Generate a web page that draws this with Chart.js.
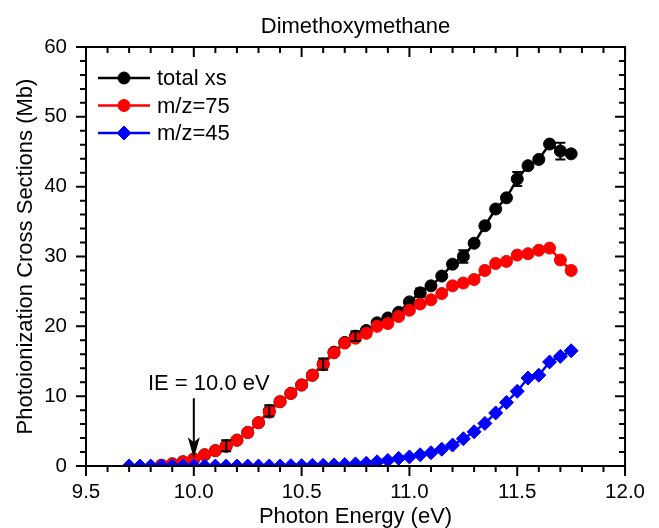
<!DOCTYPE html>
<html lang="en">
<head>
<meta charset="UTF-8">
<title>Dimethoxymethane</title>
<script src="https://cdn.jsdelivr.net/npm/chart.js"></script>
<style>
  html, body { margin: 0; padding: 0; background: #fff; }
  #wrap { width: 659px; height: 528px; }
</style>
</head>
<body>
<div id="wrap"><canvas id="xsChart"></canvas></div>
<script>
// photon energy grid (eV)
const energy = [9.70, 9.75, 9.80, 9.85, 9.90, 9.95, 10.00, 10.05, 10.10, 10.15,
                10.20, 10.25, 10.30, 10.35, 10.40, 10.45, 10.50, 10.55, 10.60, 10.65,
                10.70, 10.75, 10.80, 10.85, 10.90, 10.95, 11.00, 11.05, 11.10, 11.15,
                11.20, 11.25, 11.30, 11.35, 11.40, 11.45, 11.50, 11.55, 11.60, 11.65,
                11.70, 11.75];

// cross sections (Mb)
const totalXs = [null, null, null, 0.1, 0.3, 0.6, 1.0, 1.6, 2.2, 2.9,
                 3.7, 4.8, 6.2, 7.9, 9.2, 10.4, 11.6, 13.0, 14.6, 16.3,
                 17.7, 18.6, 19.4, 20.5, 21.2, 22.0, 23.5, 24.8, 25.8, 27.2,
                 28.9, 30.0, 31.9, 34.4, 36.8, 38.4, 41.1, 43.0, 43.9, 46.1,
                 45.1, 44.7];
const mz75 = [null, null, null, 0.1, 0.3, 0.6, 1.0, 1.6, 2.2, 2.8,
              3.7, 4.8, 6.2, 7.7, 9.2, 10.4, 11.6, 13.0, 14.5, 16.2,
              17.6, 18.3, 19.0, 20.0, 20.4, 21.4, 22.3, 23.2, 23.8, 24.7,
              25.8, 26.2, 26.7, 28.0, 29.0, 29.3, 30.2, 30.4, 30.9, 31.2,
              29.5, 28.0];
const mz45 = [0, 0, 0, 0, 0, 0, 0, 0, 0, 0,
              0, 0, 0, 0, 0, 0.05, 0.05, 0.1, 0.1, 0.15,
              0.2, 0.3, 0.4, 0.6, 0.8, 1.1, 1.3, 1.6, 1.9, 2.4,
              3.0, 3.9, 4.9, 6.1, 7.6, 9.1, 10.7, 12.6, 13.0, 14.9,
              15.7, 16.5];

// error bars on the total cross section
const errEnergy = [10.15, 10.35, 10.60, 10.75, 11.05, 11.25, 11.50, 11.70];
const errSize = [0.8, 0.8, 0.8, 0.7, 0.6, 0.9, 1.0, 1.2];

const xTickValues = [9.5, 10.0, 10.5, 11.0, 11.5, 12.0];
const yTickValues = [0, 10, 20, 30, 40, 50, 60];

const seriesNames = ['total xs', 'm/z=75', 'm/z=45'];

// ionization energy marker
const ieEnergy = 10.0;
const ieText = 'IE = 10.0 eV';

const FONT = "'Liberation Sans', Arial, sans-serif";
Chart.defaults.font.family = FONT;
Chart.defaults.color = '#000';

const pts = arr => energy.map((e, i) => ({ x: e, y: arr[i] }));

// box, inward/outward ticks and minor ticks
const frameAndTicks = {
  id: 'frameAndTicks',
  afterDatasetsDraw(chart) {
    const { ctx, chartArea: a, scales: { x, y } } = chart;
    ctx.save();
    ctx.strokeStyle = '#000';
    ctx.lineWidth = 2;
    ctx.beginPath();
    for (let i = 0; i <= 25; i++) {
      const px = x.getPixelForValue(9.5 + i * 0.1);
      const len = i % 5 === 0 ? 10 : 6;
      ctx.moveTo(px, a.bottom); ctx.lineTo(px, a.bottom + len);
      ctx.moveTo(px, a.top); ctx.lineTo(px, a.top + len);
    }
    for (let i = 0; i <= 30; i++) {
      const py = y.getPixelForValue(i * 2);
      const len = i % 5 === 0 ? 10 : 6;
      ctx.moveTo(a.left, py); ctx.lineTo(a.left - len, py);
      ctx.moveTo(a.right, py); ctx.lineTo(a.right - len, py);
    }
    ctx.stroke();
    ctx.strokeRect(a.left, a.top, a.right - a.left, a.bottom - a.top);
    ctx.restore();
  }
};

const errorBars = {
  id: 'errorBars',
  afterDatasetsDraw(chart) {
    const { ctx, scales: { x, y } } = chart;
    ctx.save();
    ctx.strokeStyle = '#000';
    ctx.lineWidth = 2;
    errEnergy.forEach((e, k) => {
      const i = energy.findIndex(v => Math.abs(v - e) < 1e-6);
      const px = x.getPixelForValue(e);
      const hi = y.getPixelForValue(totalXs[i] + errSize[k]);
      const lo = y.getPixelForValue(totalXs[i] - errSize[k]);
      ctx.beginPath();
      ctx.moveTo(px, hi); ctx.lineTo(px, lo);
      ctx.moveTo(px - 5, hi); ctx.lineTo(px + 5, hi);
      ctx.moveTo(px - 5, lo); ctx.lineTo(px + 5, lo);
      ctx.stroke();
    });
    ctx.restore();
  }
};

// title, legend box and IE arrow
const decorations = {
  id: 'decorations',
  afterDraw(chart) {
    const { ctx, chartArea: a, scales: { x, y } } = chart;
    ctx.save();
    ctx.fillStyle = '#000';
    ctx.textAlign = 'center';
    ctx.textBaseline = 'middle';
    ctx.font = '22px ' + FONT;
    ctx.fillText('Dimethoxymethane', (a.left + a.right) / 2, 27);

    // legend
    chart.data.datasets.forEach((ds, i) => {
      const ly = a.top + 31 + i * 27.5;
      ctx.strokeStyle = ds.borderColor;
      ctx.lineWidth = 2.5;
      ctx.beginPath();
      ctx.moveTo(a.left + 12, ly); ctx.lineTo(a.left + 64, ly);
      ctx.stroke();
      ctx.fillStyle = ds.pointBackgroundColor;
      ctx.strokeStyle = ds.borderColor;
      ctx.lineWidth = ds.pointBorderWidth;
      Chart.helpers.drawPoint(ctx, {
        pointStyle: ds.pointStyle, radius: ds.pointRadius,
        borderWidth: ds.pointBorderWidth, rotation: 0
      }, a.left + 38, ly);
      ctx.fillStyle = '#000';
      ctx.textAlign = 'left';
      ctx.font = '22px ' + FONT;
      ctx.fillText(ds.label, a.left + 71, ly + 1);
    });

    // IE arrow
    const ax = x.getPixelForValue(ieEnergy);
    const top = y.getPixelForValue(9.7);
    const tip = y.getPixelForValue(1.1);
    ctx.strokeStyle = '#000';
    ctx.fillStyle = '#000';
    ctx.lineWidth = 2;
    ctx.beginPath();
    ctx.moveTo(ax, top); ctx.lineTo(ax, tip - 14);
    ctx.stroke();
    ctx.beginPath();
    ctx.moveTo(ax, tip);
    ctx.lineTo(ax - 6, tip - 21);
    ctx.lineTo(ax, tip - 16);
    ctx.lineTo(ax + 6, tip - 21);
    ctx.closePath();
    ctx.fill();
    ctx.textAlign = 'center';
    ctx.font = '22px ' + FONT;
    ctx.fillText(ieText, ax + 15, y.getPixelForValue(11.8));
    ctx.restore();
  }
};

const ctx = document.getElementById('xsChart').getContext('2d');
new Chart(ctx, {
  type: 'line',
  data: {
    datasets: [
      {
        label: seriesNames[0],
        data: pts(totalXs),
        borderColor: '#000000',
        backgroundColor: '#000000',
        pointBackgroundColor: '#000000',
        pointStyle: 'circle',
        pointRadius: 6,
        pointBorderWidth: 1,
        borderWidth: 2.5,
        order: 3,
        clip: 0
      },
      {
        label: seriesNames[1],
        data: pts(mz75),
        borderColor: '#ff0000',
        backgroundColor: '#ff0000',
        pointBackgroundColor: '#ff0000',
        pointStyle: 'circle',
        pointRadius: 6,
        pointBorderWidth: 1,
        borderWidth: 2.5,
        order: 2,
        clip: 0
      },
      {
        label: seriesNames[2],
        data: pts(mz45),
        borderColor: '#0000ff',
        backgroundColor: '#0000ff',
        pointBackgroundColor: '#0000ff',
        pointStyle: 'rectRot',
        pointRadius: 7,
        pointBorderWidth: 1,
        borderWidth: 2.5,
        order: 1,
        clip: 0
      }
    ]
  },
  options: {
    responsive: true,
    maintainAspectRatio: false,
    animation: false,
    events: [],
    layout: { padding: { top: 47, right: 23, left: 0, bottom: 0 } },
    plugins: {
      legend: { display: false },
      tooltip: { enabled: false }
    },
    scales: {
      x: {
        type: 'linear',
        min: 9.5,
        max: 12.0,
        grid: { display: false, drawTicks: false },
        border: { display: false },
        afterBuildTicks: s => { s.ticks = xTickValues.map(v => ({ value: v })); },
        afterFit: s => { s.height = 62; },
        ticks: {
          autoSkip: false,
          maxRotation: 0,
          padding: 14,
          font: { size: 20.5 },
          callback: v => v.toFixed(1)
        },
        title: {
          display: true,
          text: 'Photon Energy (eV)',
          font: { size: 22, lineHeight: 1 },
          padding: { top: 0, bottom: 0 }
        }
      },
      y: {
        min: 0,
        max: 60,
        grid: { display: false, drawTicks: false },
        border: { display: false },
        afterBuildTicks: s => { s.ticks = yTickValues.map(v => ({ value: v })); },
        afterFit: s => { s.width = 86; },
        ticks: {
          padding: 19,
          font: { size: 20.5 }
        },
        title: {
          display: true,
          text: 'Photoionization Cross Sections (Mb)',
          font: { size: 22, lineHeight: 1 },
          padding: { top: 15, bottom: 0 }
        }
      }
    }
  },
  plugins: [frameAndTicks, errorBars, decorations]
});
</script>
</body>
</html>
